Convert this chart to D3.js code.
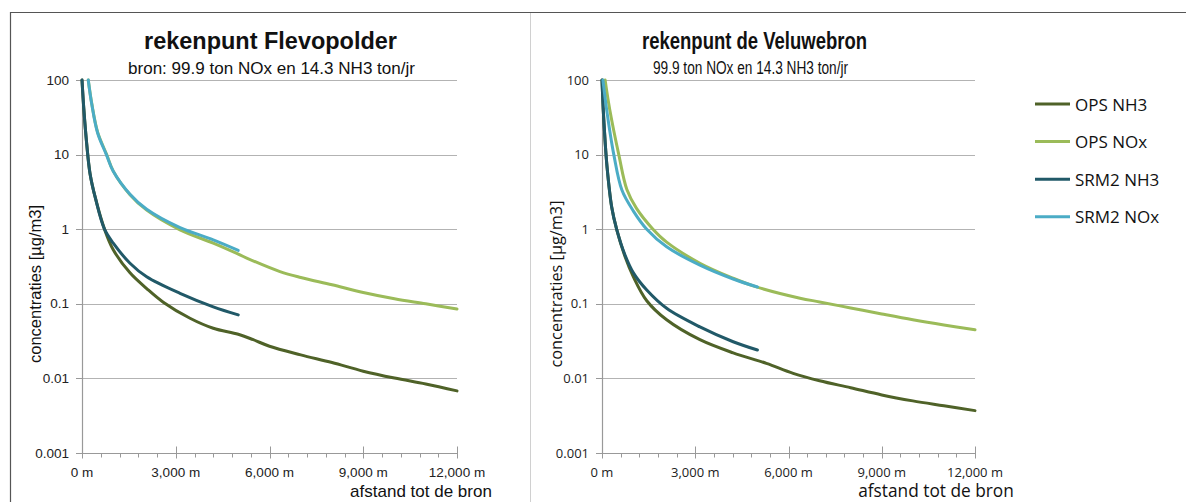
<!DOCTYPE html>
<html>
<head>
<meta charset="utf-8">
<script src="https://cdn.jsdelivr.net/npm/d3@7"></script>
<style>
  body { margin: 0; background: #fff; }
  svg { display: block; }
</style>
</head>
<body>
<svg id="chart" width="1186" height="502"></svg>
<script>
var svg = d3.select("#chart"),
    width = +svg.attr("width"), height = +svg.attr("height")

// Data: [afstand (m), concentratie (µg/m3)]
var flevoOpsNH3 = [[0,100],[60,40],[150,14],[256,5.6],[430,2.6],[720,1],[1000,0.53],[1536,0.26],[2070,0.16],[2600,0.105],[3456,0.064],[4200,0.047],[5000,0.039],[5480,0.033],[6000,0.027],[7000,0.0207],[8000,0.0163],[9000,0.0125],[10000,0.0101],[11000,0.0084],[12000,0.0068]]
var flevoOpsNOx = [[200,100],[310,49],[500,20],[790,10],[1000,6.0],[1536,2.9],[2070,1.8],[3136,0.98],[4200,0.65],[4918,0.48],[5270,0.41],[6336,0.27],[7000,0.225],[8000,0.18],[9000,0.142],[10000,0.117],[11000,0.1],[12000,0.085]]
var flevoSrmNH3 = [[0,100],[60,40],[150,14],[256,5.6],[430,2.6],[720,1],[1000,0.65],[1536,0.35],[2070,0.23],[3136,0.138],[4200,0.091],[5000,0.071]]
var flevoSrmNOx = [[200,100],[310,48],[500,19.5],[780,10],[1000,6.0],[1536,2.95],[2070,1.85],[3136,1.05],[4200,0.72],[5000,0.52]]

var veluOpsNH3 = [[0,100],[40,40],[100,15],[160,7],[310,2.0],[470,1],[740,0.43],[1010,0.23],[1440,0.11],[2080,0.061],[3150,0.033],[4220,0.022],[5290,0.0159],[6150,0.0117],[7000,0.0093],[8000,0.0075],[9000,0.006],[10000,0.005],[11000,0.0043],[12000,0.0037]]
var veluOpsNOx = [[100,100],[250,40],[540,10],[800,3.4],[1110,1.9],[1640,1],[2080,0.67],[3150,0.35],[4220,0.22],[4940,0.17],[6370,0.119],[7000,0.106],[8000,0.088],[9000,0.073],[10000,0.061],[11000,0.052],[12000,0.045]]
var veluSrmNH3 = [[0,100],[40,40],[100,15],[160,7],[310,2.0],[470,1],[740,0.45],[1010,0.26],[1440,0.153],[2080,0.087],[3150,0.049],[4220,0.031],[5000,0.024]]
var veluSrmNOx = [[30,100],[150,40],[380,10],[640,3.35],[1010,1.75],[1440,1],[2080,0.58],[3150,0.33],[4220,0.215],[5000,0.168]]

var seriesNames = ["OPS NH3", "OPS NOx", "SRM2 NH3", "SRM2 NOx"]
var seriesColors = ["#4f6228", "#9bbb59", "#215968", "#4bacc6"]
var yTicks = [100, 10, 1, 0.1, 0.01, 0.001]
var yTickLabels = ["100", "10", "1", "0.1", "0.01", "0.001"]
var xTicks = [0, 3000, 6000, 9000, 12000]
var xTickLabels = ["0 m", "3,000 m", "6,000 m", "9,000 m", "12,000 m"]

// frame
svg.append("line").attr("x1", 10).attr("x2", width).attr("y1", 12.5).attr("y2", 12.5)
    .attr("stroke", "#555").attr("stroke-width", 1.2)
svg.append("line").attr("x1", 10.5).attr("x2", 10.5).attr("y1", 12).attr("y2", height)
    .attr("stroke", "#555").attr("stroke-width", 1.2)
svg.append("line").attr("x1", 530.5).attr("x2", 530.5).attr("y1", 13).attr("y2", height)
    .attr("stroke", "#d0d0d0")

function drawPanel(p, data) {
    var g = svg.append("g")
    var x = d3.scaleLinear().domain([0, 12000]).range([p.x0, p.x1])
    var y = d3.scaleLog().domain([0.001, 100]).range([453, 80])

    // grid
    g.selectAll(".grid").data(yTicks.slice(0, 5)).enter().append("line")
        .attr("x1", p.x0).attr("x2", p.x1)
        .attr("y1", d => Math.round(y(d)) + 0.5).attr("y2", d => Math.round(y(d)) + 0.5)
        .attr("stroke", "#b3b3b3").attr("stroke-width", 1.2)

    // y axis
    g.append("line").attr("x1", p.x0 + 0.5).attr("x2", p.x0 + 0.5).attr("y1", 80).attr("y2", 454)
        .attr("stroke", "#999").attr("stroke-width", 1.2)
    g.selectAll(".yt").data(yTicks).enter().append("line")
        .attr("x1", p.x0 - 6).attr("x2", p.x0)
        .attr("y1", d => Math.round(y(d)) + 0.5).attr("y2", d => Math.round(y(d)) + 0.5)
        .attr("stroke", "#999")
    g.selectAll(".yl").data(yTicks).enter().append("text")
        .attr("x", p.x0 - 13).attr("y", d => y(d) + 4.5)
        .attr("text-anchor", "end")
        .style("font-family", p.tickFont).style("font-size", p.tickSize).style("fill", "#222")
        .text((d, i) => yTickLabels[i])

    // x axis
    var xa = g.append("g").attr("transform", "translate(0,453.5)")
    xa.append("line").attr("x1", p.x0).attr("x2", p.x1).attr("stroke", "#999").attr("stroke-width", 1.2)
    xa.selectAll(".minor").data(d3.range(0, 12001, 600)).enter().append("line")
        .attr("x1", d => Math.round(x(d)) + 0.5).attr("x2", d => Math.round(x(d)) + 0.5)
        .attr("y1", 0).attr("y2", 4).attr("stroke", "#999")
    xa.selectAll(".major").data(xTicks).enter().append("line")
        .attr("x1", d => Math.round(x(d)) + 0.5).attr("x2", d => Math.round(x(d)) + 0.5)
        .attr("y1", -7).attr("y2", 5).attr("stroke", "#999")
    xa.selectAll(".xl").data(xTicks).enter().append("text")
        .attr("x", d => x(d)).attr("y", 23)
        .attr("text-anchor", "middle")
        .style("font-family", p.tickFont).style("font-size", p.tickSize).style("fill", "#222")
        .text((d, i) => xTickLabels[i])

    // titles
    g.append("text").attr("x", p.titleX).attr("y", 48.5).attr("text-anchor", "middle")
        .attr("textLength", p.titleW).attr("lengthAdjust", "spacingAndGlyphs")
        .style("font-family", "Liberation Sans, Arial, sans-serif").style("font-weight", "bold")
        .style("font-size", "23px").style("fill", "#111").text(p.title)
    g.append("text").attr("x", p.subX).attr("y", 74).attr("text-anchor", "middle")
        .attr("textLength", p.subW).attr("lengthAdjust", "spacingAndGlyphs")
        .style("font-family", "Liberation Sans, Arial, sans-serif").style("font-size", p.subSize)
        .style("fill", "#111").text(p.subtitle)

    // axis labels
    g.append("text").attr("transform", "translate(" + p.yLabelX + ",284) rotate(-90)")
        .attr("text-anchor", "middle")
        .style("font-family", p.labelFont).style("font-size", p.yLabelSize).style("fill", "#111")
        .text("concentraties [µg/m3]")
    g.append("text").attr("x", p.xLabelX).attr("y", 497).attr("text-anchor", "middle")
        .style("font-family", p.labelFont).style("font-size", p.xLabelSize).style("fill", "#111")
        .text("afstand tot de bron")

    // lines
    var line = d3.line().x(d => x(d[0])).y(d => y(d[1])).curve(d3.curveCatmullRom.alpha(0.5))
    data.forEach(function(s, i) {
        g.append("path").datum(s)
            .attr("d", line)
            .attr("fill", "none")
            .attr("stroke", seriesColors[i])
            .attr("stroke-width", 3)
            .attr("stroke-linecap", "round")
            .attr("stroke-linejoin", "round")
    })
}

drawPanel({x0: 82, x1: 457, title: "rekenpunt Flevopolder", titleX: 270.5, titleW: 253,
    subtitle: "bron: 99.9 ton NOx en 14.3 NH3 ton/jr", subX: 271.5, subW: 287, subSize: "16px",
    tickFont: "Liberation Sans, Arial, sans-serif", tickSize: "13.5px",
    labelFont: "Liberation Sans, Arial, sans-serif", yLabelSize: "16.5px", xLabelSize: "17px",
    yLabelX: 41, xLabelX: 421},
    [flevoOpsNH3, flevoOpsNOx, flevoSrmNH3, flevoSrmNOx])

drawPanel({x0: 602, x1: 975, title: "rekenpunt de Veluwebron", titleX: 754.5, titleW: 225,
    subtitle: "99.9 ton NOx en 14.3 NH3 ton/jr", subX: 750.5, subW: 195, subSize: "17.5px",
    tickFont: "Open Sans, sans-serif", tickSize: "13px",
    labelFont: "Open Sans, sans-serif", yLabelSize: "16.3px", xLabelSize: "17.3px",
    yLabelX: 562, xLabelX: 936},
    [veluOpsNH3, veluOpsNOx, veluSrmNH3, veluSrmNOx])

// legend
var legend = svg.append("g")
seriesNames.forEach(function(name, i) {
    var ly = 104 + i * 37.6
    legend.append("line").attr("x1", 1035).attr("x2", 1070).attr("y1", ly).attr("y2", ly)
        .attr("stroke", seriesColors[i]).attr("stroke-width", 3)
    legend.append("text").attr("x", 1075).attr("y", ly + 6.5)
        .style("font-family", "Open Sans, sans-serif").style("font-size", "17px").style("fill", "#111")
        .text(name)
})
</script>
</body>
</html>
